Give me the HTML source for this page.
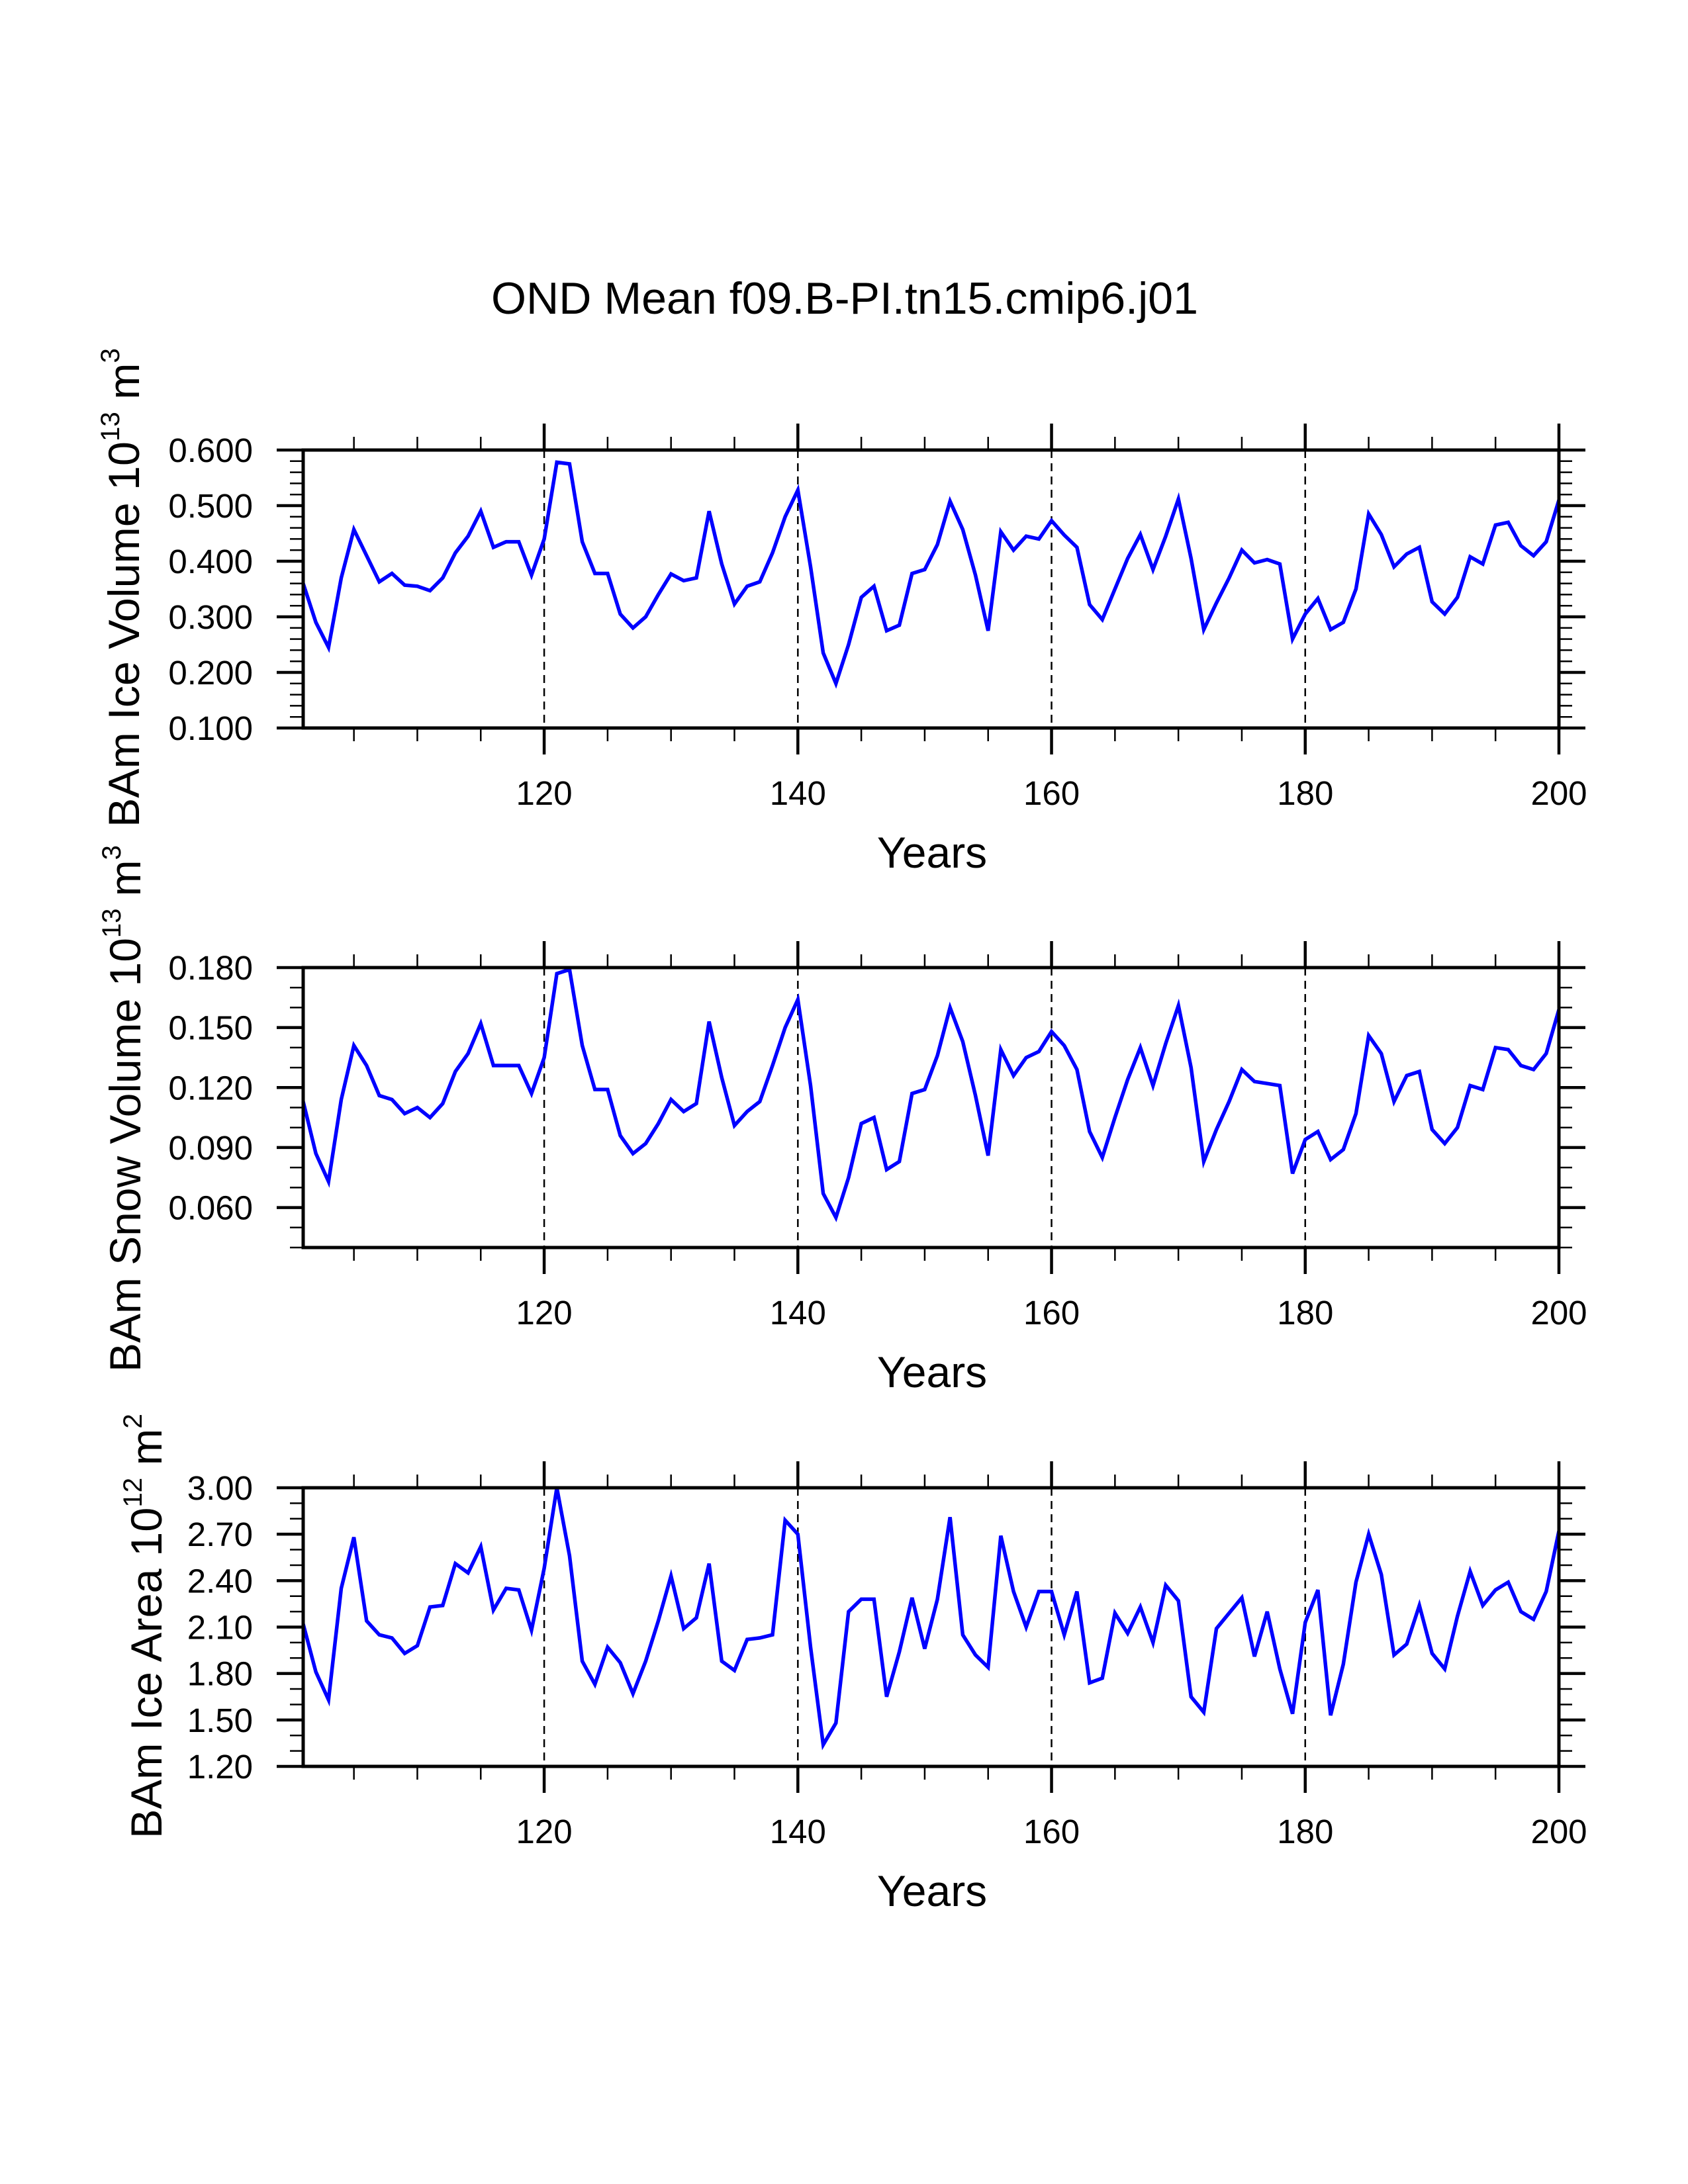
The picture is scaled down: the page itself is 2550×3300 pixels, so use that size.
<!DOCTYPE html>
<html><head><meta charset="utf-8">
<style>
html,body{margin:0;padding:0;background:#fff;}
svg{display:block;}
text{font-family:"Liberation Sans",Arial,sans-serif;fill:#000;}
</style></head>
<body>
<svg id="fig" width="2550" height="3300" viewBox="0 0 2550 3300" xmlns="http://www.w3.org/2000/svg">
<rect width="2550" height="3300" fill="#fff"/>
<text x="1276" y="474" font-size="68" text-anchor="middle" textLength="1068" lengthAdjust="spacingAndGlyphs">OND Mean f09.B-PI.tn15.cmip6.j01</text>
</svg>
<script>
const years = [];
for (let y = 101; y <= 200; y++) years.push(y);
const xTickLabels = ["120","140","160","180","200"];
const iceVolume = [0.36,0.29,0.245,0.37,0.457,0.41,0.363,0.378,0.357,0.355,0.347,0.37,0.415,0.445,0.49,0.425,0.435,0.435,0.375,0.44,
0.578,0.575,0.435,0.378,0.378,0.305,0.28,0.30,0.34,0.377,0.365,0.37,0.49,0.395,0.323,0.355,0.363,0.415,0.48,0.528,
0.39,0.235,0.18,0.25,0.335,0.355,0.275,0.285,0.378,0.385,0.43,0.508,0.457,0.375,0.275,0.453,0.42,0.445,0.44,0.473,
0.447,0.425,0.322,0.295,0.35,0.405,0.448,0.385,0.445,0.512,0.405,0.277,0.325,0.37,0.42,0.397,0.403,0.395,0.26,0.305,
0.333,0.277,0.29,0.35,0.485,0.448,0.39,0.413,0.425,0.327,0.305,0.335,0.408,0.395,0.465,0.47,0.428,0.41,0.435,0.51];
const snowVolume = [0.113,0.087,0.073,0.114,0.141,0.131,0.116,0.114,0.107,0.11,0.105,0.112,0.128,0.137,0.152,0.131,0.131,0.131,0.117,0.135,
0.177,0.179,0.141,0.119,0.119,0.096,0.087,0.092,0.102,0.114,0.108,0.112,0.153,0.125,0.101,0.108,0.113,0.131,0.15,0.164,
0.121,0.067,0.055,0.075,0.102,0.105,0.079,0.083,0.117,0.119,0.136,0.16,0.143,0.116,0.086,0.139,0.126,0.135,0.138,0.148,
0.141,0.129,0.098,0.085,0.105,0.124,0.14,0.121,0.142,0.161,0.13,0.083,0.099,0.113,0.129,0.123,0.122,0.121,0.077,0.094,
0.098,0.084,0.089,0.107,0.146,0.137,0.113,0.126,0.128,0.099,0.092,0.1,0.121,0.119,0.14,0.139,0.131,0.129,0.137,0.159];
const iceArea = [2.12,1.81,1.63,2.35,2.68,2.14,2.05,2.03,1.93,1.98,2.23,2.24,2.51,2.45,2.62,2.21,2.35,2.34,2.08,2.48,
3.0,2.56,1.88,1.73,1.97,1.87,1.67,1.88,2.14,2.43,2.09,2.16,2.51,1.88,1.82,2.02,2.03,2.05,2.79,2.7,
1.97,1.34,1.48,2.2,2.28,2.28,1.65,1.94,2.29,1.96,2.28,2.81,2.05,1.92,1.84,2.69,2.33,2.1,2.33,2.33,
2.05,2.33,1.74,1.77,2.19,2.06,2.23,2.0,2.37,2.27,1.65,1.55,2.09,2.19,2.29,1.91,2.2,1.83,1.54,2.13,
2.34,1.53,1.86,2.39,2.7,2.44,1.92,1.99,2.24,1.93,1.83,2.17,2.46,2.24,2.34,2.39,2.2,2.15,2.33,2.72];
const yTicks1 = ["0.100","0.200","0.300","0.400","0.500","0.600"];
const yTicks2 = ["0.060","0.090","0.120","0.150","0.180"];
const yTicks3 = ["1.20","1.50","1.80","2.10","2.40","2.70","3.00"];

const NS = "http://www.w3.org/2000/svg";
const svg = document.getElementById("fig");
const L = 458, R = 2355, XMIN = 101, XMAX = 200;
function xs(v){ return L + (v - XMIN) / (XMAX - XMIN) * (R - L); }
function mk(tag, attrs, parent){ const e = document.createElementNS(NS, tag); for (const k in attrs) e.setAttribute(k, attrs[k]); (parent||svg).appendChild(e); return e; }

const panels = [
 {name:"ice-volume", top:680, bot:1100, ymin:0.1, ymax:0.6, minor:0.02, data:iceVolume, ticks:yTicks1,
  title:["BAm Ice Volume 10","13"," m","3"], tx:210, tcy:888, tlen:724},
 {name:"snow-volume", top:1462, bot:1885, ymin:0.04, ymax:0.18, minor:0.01, data:snowVolume, ticks:yTicks2,
  title:["BAm Snow Volume 10","13"," m","3"], tx:212, tcy:1675, tlen:796},
 {name:"ice-area", top:2248, bot:2669, ymin:1.2, ymax:3.0, minor:0.1, data:iceArea, ticks:yTicks3,
  title:["BAm Ice Area 10","12"," m","2"], tx:244, tcy:2457, tlen:642}
];

panels.forEach(p => {
  const g = mk("g", {});
  
  
  const ys = v => p.bot - (v - p.ymin) / (p.ymax - p.ymin) * (p.bot - p.top);
  [120,140,160,180].forEach(yr => {
    const d = mk("line", {x1:xs(yr), x2:xs(yr), y1:p.top, y2:p.bot, stroke:"#000", "stroke-width":2.5, "stroke-dasharray":"12 8"}, g);
    
    
  });
  for (let yr = 105; yr <= 200; yr += 5) {
    const major = yr % 20 === 0;
    const len = major ? 40 : 20, w = major ? 4.5 : 2.5;
    mk("line", {x1:xs(yr), x2:xs(yr), y1:p.bot, y2:p.bot+len, stroke:"#000", "stroke-width":w}, g);
    mk("line", {x1:xs(yr), x2:xs(yr), y1:p.top, y2:p.top-len, stroke:"#000", "stroke-width":w}, g);
  }
  const nMin = Math.round((p.ymax - p.ymin) / p.minor);
  const tickVals = p.ticks.map(Number);
  for (let i = 0; i <= nMin; i++) {
    const v = p.ymin + i * p.minor;
    const major = tickVals.some(t => Math.abs(t - v) < 1e-6);
    const len = major ? 40 : 20, w = major ? 4.5 : 2.5;
    const y = ys(v);
    mk("line", {x1:L-len, x2:L, y1:y, y2:y, stroke:"#000", "stroke-width":w}, g);
    mk("line", {x1:R, x2:R+len, y1:y, y2:y, stroke:"#000", "stroke-width":w}, g);
  }
  p.ticks.forEach(t => {
    const tx = mk("text", {x:382, y:ys(Number(t))+18, "font-size":51, "text-anchor":"end"}, g);
    tx.textContent = t;
    
    
  });
  xTickLabels.forEach(t => {
    const tx = mk("text", {x:xs(Number(t)), y:p.bot+116, "font-size":51, "text-anchor":"middle"}, g);
    tx.textContent = t;
    
    
  });
  const pts = p.data.map((v,i) => xs(years[i]).toFixed(1) + "," + ys(v).toFixed(1)).join(" ");
  const line = mk("polyline", {points:pts, fill:"none", stroke:"#0000ff", "stroke-width":5.5, "stroke-linejoin":"miter"}, g);
  
  
  const fr = mk("rect", {x:L, y:p.top, width:R-L, height:p.bot-p.top, fill:"none", stroke:"#000", "stroke-width":5}, g);
  
  
  const xt = mk("text", {x:1408, y:p.bot+211, "font-size":66, "text-anchor":"middle"}, g);
  xt.textContent = "Years";
  
  
  const yg = mk("g", {}, g);
  const yt = mk("text", {x:0, y:0, "font-size":66, "text-anchor":"start"}, yg);
  
  
  const s1 = mk("tspan", {}, yt); s1.textContent = p.title[0];
  const s2 = mk("tspan", {dy:-30, "font-size":40}, yt); s2.textContent = p.title[1];
  const s3 = mk("tspan", {dy:30}, yt); s3.textContent = p.title[2];
  const s4 = mk("tspan", {dy:-30, "font-size":40}, yt); s4.textContent = p.title[3];
  let w = 0;
  try { w = yt.getBBox().width; } catch(e) { w = 0; }
  if (!w) w = p.tlen;
  const sx = p.tlen / w;
  yg.setAttribute("transform", "translate(" + p.tx + "," + (p.tcy + p.tlen/2) + ") rotate(-90) scale(" + sx.toFixed(4) + ",1)");
});
</script>
</body></html>
